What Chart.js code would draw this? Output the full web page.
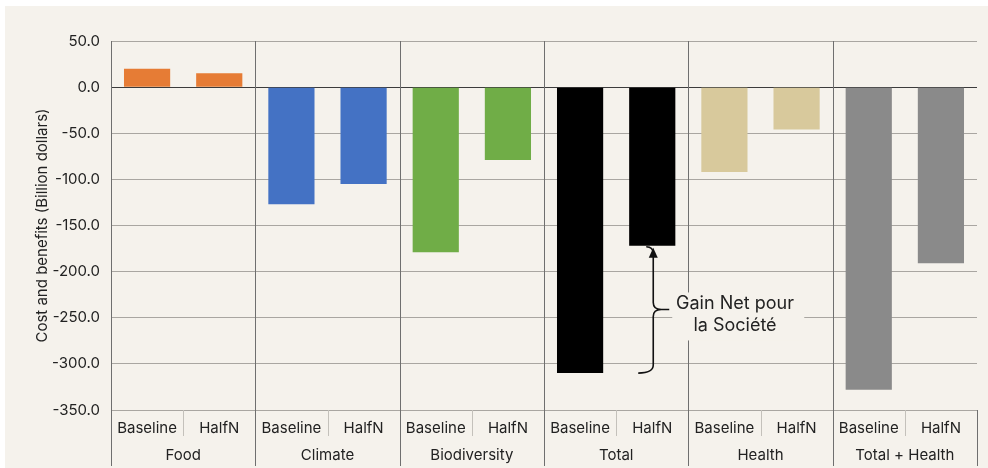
<!DOCTYPE html>
<html>
<head>
<meta charset="utf-8">
<script src="https://cdn.jsdelivr.net/npm/chart.js@4"></script>
<style>
    html, body { margin: 0; padding: 0; background: #ffffff; }
    #wrap { width: 988px; height: 468px; }
</style>
</head>
<body>
<div id="wrap"><canvas id="chart" width="988" height="468"></canvas></div>
<script>
// Data
const groups = ['Food', 'Climate', 'Biodiversity', 'Total', 'Health', 'Total + Health'];
const scenarios = ['Baseline', 'HalfN'];
const baselineValues = [20, -127, -179, -310, -92, -328];
const halfNValues = [15, -105, -79, -172, -46, -191];
const yTicks = [50, 0, -50, -100, -150, -200, -250, -300, -350];
const noteLines = ['Gain Net pour', 'la Société'];

// Colours per group
const groupColors = ['#e67c35', '#4472c4', '#70ad47', '#000000', '#d8c99c', '#8a8a8a'];

// Flatten into one bar per scenario
const barLabels = [];
const barValues = [];
const barColors = [];
groups.forEach((g, i) => {
    barLabels.push(scenarios[0], scenarios[1]);
    barValues.push(baselineValues[i], halfNValues[i]);
    barColors.push(groupColors[i], groupColors[i]);
});

const FONT = 'Inter, "Noto Sans", sans-serif';
const BG = '#f5f2ec';

// Background, separators and the note
const decorPlugin = {
    id: 'decor',
    beforeDraw(chart) {
        const ctx = chart.ctx;
        ctx.save();
        ctx.fillStyle = '#ffffff';
        ctx.fillRect(0, 0, chart.width, chart.height);
        ctx.fillStyle = BG;
        ctx.fillRect(5, 6, chart.width - 5, chart.height - 6);
        ctx.restore();
    },
    afterDatasetsDraw(chart) {
        const ctx = chart.ctx;
        const area = chart.chartArea;
        const x = chart.scales.x;
        const y = chart.scales.y;
        const bottom = chart.scales.x2.bottom;
        ctx.save();
        ctx.lineWidth = 1;

        // group separators and frame
        ctx.strokeStyle = '#6f6f6f';
        for (let i = 0; i <= groups.length; i++) {
            const px = Math.round(x.getPixelForValue(i * 2 - 0.5)) + 0.5;
            ctx.beginPath();
            if (i === groups.length) {
                ctx.moveTo(px, area.bottom);
            } else {
                ctx.moveTo(px, area.top);
            }
            ctx.lineTo(px, bottom);
            ctx.stroke();
        }
        // short separators between scenarios
        ctx.strokeStyle = '#c4c1bb';
        for (let i = 0; i < groups.length; i++) {
            const px = Math.round(x.getPixelForValue(i * 2 + 0.5)) + 0.5;
            ctx.beginPath();
            ctx.moveTo(px, area.bottom);
            ctx.lineTo(px, area.bottom + 26);
            ctx.stroke();
        }

        // brace showing the net gain on Total
        const totalIdx = groups.indexOf('Total');
        const bx = x.getPixelForValue(totalIdx * 2 + 1) + 1;
        const yTop = y.getPixelForValue(halfNValues[totalIdx]);
        const yBot = y.getPixelForValue(baselineValues[totalIdx]);
        const yMid = (yTop + yBot) / 2;
        ctx.strokeStyle = '#111111';
        ctx.fillStyle = '#111111';
        ctx.lineWidth = 1.6;
        ctx.beginPath();
        ctx.moveTo(bx - 7, yTop + 1);
        ctx.quadraticCurveTo(bx, yTop + 1, bx, yTop + 8);
        ctx.lineTo(bx, yMid - 7);
        ctx.quadraticCurveTo(bx, yMid, bx + 8, yMid);
        ctx.lineTo(bx + 16, yMid);
        ctx.moveTo(bx + 8, yMid);
        ctx.quadraticCurveTo(bx, yMid, bx, yMid + 7);
        ctx.lineTo(bx, yBot - 8);
        ctx.quadraticCurveTo(bx, yBot, bx - 15, yBot);
        ctx.stroke();
        ctx.beginPath();
        ctx.moveTo(bx, yTop + 2);
        ctx.lineTo(bx - 4.5, yTop + 12);
        ctx.lineTo(bx + 4.5, yTop + 12);
        ctx.closePath();
        ctx.fill();

        // note text on a background patch
        const tx = 735;
        ctx.fillStyle = BG;
        ctx.fillRect(bx + 19, yMid - 17, 132, 48);
        ctx.fillStyle = '#222222';
        ctx.font = '18px ' + FONT;
        ctx.textAlign = 'center';
        ctx.textBaseline = 'middle';
        ctx.fillText(noteLines[0], tx, yMid - 6);
        ctx.fillText(noteLines[1], tx, yMid + 16);
        ctx.restore();
    }
};

function initChart() {
    const ctx = document.getElementById('chart').getContext('2d');
    new Chart(ctx, {
        type: 'bar',
        data: {
            labels: barLabels,
            datasets: [{
                data: barValues,
                backgroundColor: barColors,
                borderWidth: 0,
                categoryPercentage: 1,
                barPercentage: 0.64
            }]
        },
        options: {
            responsive: false,
            animation: false,
            layout: {
                padding: { top: 41, right: 11, bottom: 2, left: 0 }
            },
            plugins: {
                legend: { display: false },
                tooltip: { enabled: false }
            },
            scales: {
                y: {
                    min: -350,
                    max: 50,
                    afterFit: (s) => { s.width = 111; },
                    afterBuildTicks: (s) => { s.ticks = yTicks.map(v => ({ value: v })); },
                    ticks: {
                        padding: 11,
                        color: '#222222',
                        font: { family: FONT, size: 15 },
                        callback: (v) => Number(v).toFixed(1)
                    },
                    grid: {
                        drawTicks: false,
                        lineWidth: 1,
                        color: (c) => c.tick && c.tick.value === 0 ? '#3c3c3c' : '#a9a6a1'
                    },
                    border: { display: true, color: '#555555' },
                    title: {
                        display: true,
                        text: 'Cost and benefits (Billion dollars)',
                        color: '#222222',
                        font: { family: FONT, size: 15 },
                        padding: { top: 33, bottom: 0 }
                    }
                },
                x: {
                    weight: 0,
                    afterFit: (s) => { s.height = 28; },
                    grid: { display: false },
                    border: { display: false },
                    ticks: {
                        padding: 1,
                        maxRotation: 0,
                        autoSkip: false,
                        color: '#222222',
                        font: { family: FONT, size: 15 }
                    }
                },
                x2: {
                    type: 'category',
                    position: 'bottom',
                    labels: groups,
                    offset: true,
                    weight: 1,
                    afterFit: (s) => { s.height = 28; },
                    grid: { display: false },
                    border: { display: false },
                    ticks: {
                        padding: 0,
                        maxRotation: 0,
                        autoSkip: false,
                        color: '#222222',
                        font: { family: FONT, size: 15 }
                    }
                }
            }
        },
        plugins: [decorPlugin]
    });
}

document.addEventListener('DOMContentLoaded', initChart);
</script>
</body>
</html>
